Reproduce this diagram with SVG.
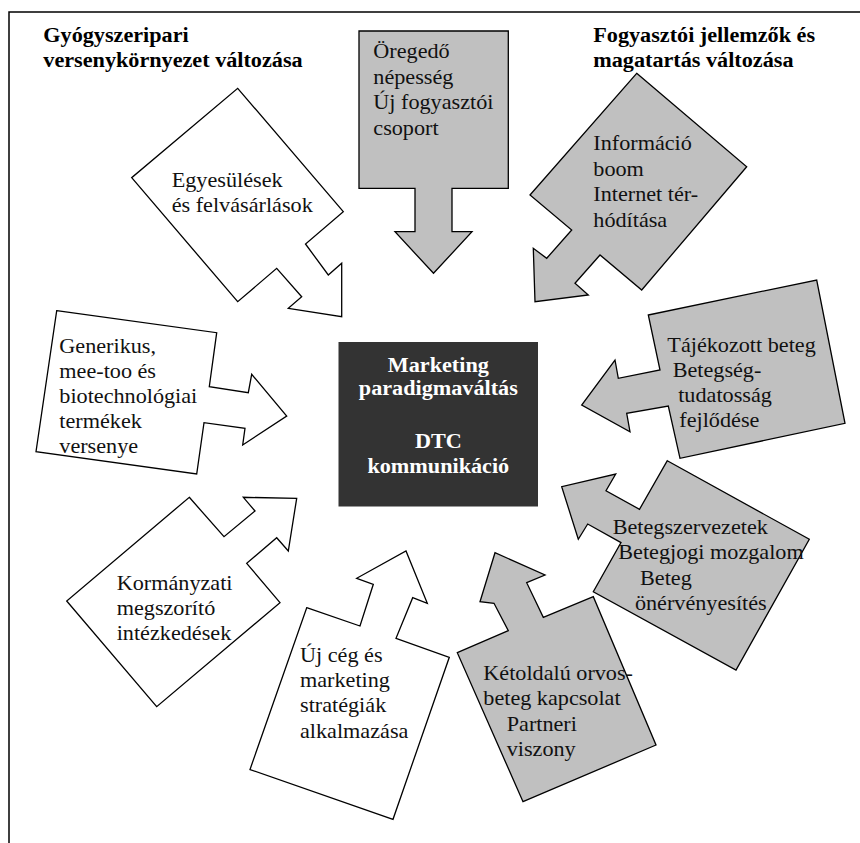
<svg xmlns="http://www.w3.org/2000/svg" width="860" height="843" viewBox="0 0 860 843">
  <style>
    .frame { fill: none; stroke: #000; stroke-width: 1.5; }
    .shape { stroke: #000; stroke-width: 1.3; stroke-linejoin: miter; }
    .white { fill: #fff; }
    .gray { fill: #c0c0c0; }
  </style>
  <rect width="860" height="843" fill="#fff"/>

  <!-- page frame (top and left rules) -->
  <path class="frame" d="M860 12 H9 V843"/>

  <g font-family="'Liberation Serif', 'Times New Roman', serif" font-size="20">
  <!-- group headings -->
  <g id="heading-left">
    <text font-family="'Liberation Serif', serif" font-weight="bold" fill="#000" transform="translate(43.3 0) scale(1.11 1)"><tspan x="0" y="41.7">Gyógyszeripari</tspan><tspan x="0" y="66.7">versenykörnyezet változása</tspan></text>
  </g>
  <g id="heading-right">
    <text font-family="'Liberation Serif', serif" font-weight="bold" fill="#000" transform="translate(593.3 0) scale(1.11 1)"><tspan x="0" y="41.7">Fogyasztói jellemzők és</tspan><tspan x="0" y="66.7">magatartás változása</tspan></text>
  </g>

  <!-- central node -->
  <g id="center">
    <rect x="338.5" y="342" width="199.5" height="164.5" fill="#333"/>
    <text font-family="'Liberation Serif', serif" font-weight="bold" fill="#fff" text-anchor="middle" transform="translate(438.3 0) scale(1.11 1)"><tspan x="0" y="371.7">Marketing</tspan><tspan x="0" y="395.5">paradigmaváltás</tspan><tspan x="0" y="448.3">DTC</tspan><tspan x="0" y="473">kommunikáció</tspan></text>
  </g>

  <g id="connectors"></g>

  <!-- white arrow callouts: competitive environment -->
  <g id="egyesulesek">
    <polygon class="shape white" points="237.7,88.3 343.3,211.7 305.5,244 328.3,275 341.7,263.3 341.7,316.7 288.3,308.3 301.7,296.7 276.7,268.3 237.7,301.7 131.7,177.7"/>
    <text font-family="'Liberation Serif', serif" fill="#111" transform="translate(171.7 0) scale(1.11 1)"><tspan x="0" y="186.7">Egyesülések</tspan><tspan x="0" y="212.3">és felvásárlások</tspan></text>
  </g>

  <g id="generikus">
    <polygon class="shape white" points="56.7,310.7 216.7,332.7 209.3,386.7 248.3,392.7 251.7,374.3 286.7,416 242.7,445 245,428.3 204,422.7 196.7,474 36,451.7"/>
    <text font-family="'Liberation Serif', serif" fill="#111" transform="translate(59.3 0) scale(1.11 1)"><tspan x="0" y="353.3">Generikus,</tspan><tspan x="0" y="378.3">mee-too és</tspan><tspan x="0" y="403.3">biotechnológiai</tspan><tspan x="0" y="428.3">termékek</tspan><tspan x="0" y="453.3">versenye</tspan></text>
  </g>

  <g id="kormanyzati">
    <polygon class="shape white" points="189.3,497.3 224,536.7 255,511 243.3,497.3 296.7,498.3 288.3,551 276.7,537.7 246.7,563.3 280,602.7 156.7,706.7 66.7,601"/>
    <text font-family="'Liberation Serif', serif" fill="#111" transform="translate(116.7 0) scale(1.11 1)"><tspan x="0" y="590">Kormányzati</tspan><tspan x="0" y="615">megszorító</tspan><tspan x="0" y="640">intézkedések</tspan></text>
  </g>

  <g id="uj-ceg">
    <polygon class="shape white" points="306.7,607.7 360,626 373.3,584.3 356.7,578.3 406,551 427.3,603.3 412.7,597.7 396,638.3 449.3,657.3 393,819.3 250,769.5"/>
    <text font-family="'Liberation Serif', serif" fill="#111" transform="translate(300 0) scale(1.11 1)"><tspan x="0" y="661.7">Új cég és</tspan><tspan x="0" y="687">marketing</tspan><tspan x="0" y="712.5">stratégiák</tspan><tspan x="0" y="738">alkalmazása</tspan></text>
  </g>

  <!-- gray arrow callouts: consumer characteristics -->
  <g id="oregedo">
    <polygon class="shape gray" points="359,31 508.3,31 508.3,188.3 452,188.3 452,231.7 472,231.7 433.5,273.3 395,231.7 415,231.7 415,188.3 359,188.3"/>
    <text font-family="'Liberation Serif', serif" fill="#111" transform="translate(373.3 0) scale(1.11 1)"><tspan x="0" y="58.3">Öregedő</tspan><tspan x="0" y="83.8">népesség</tspan><tspan x="0" y="109.3">Új fogyasztói</tspan><tspan x="0" y="134.8">csoport</tspan></text>
  </g>

  <g id="informacio">
    <polygon class="shape gray" points="636.7,73.3 746.7,166.7 641.7,290 600,255 575,283.3 588.3,295 535,301.7 533.3,248.3 546.7,258.3 571.7,230 530,195"/>
    <text font-family="'Liberation Serif', serif" fill="#111" transform="translate(593.3 0) scale(1.11 1)"><tspan x="0" y="150">Információ</tspan><tspan x="0" y="175.7">boom</tspan><tspan x="0" y="201.3">Internet tér-</tspan><tspan x="0" y="226.7">hódítása</tspan></text>
  </g>

  <g id="tajekozott">
    <polygon class="shape gray" points="648.3,315 816.7,280 845,423.3 680,458.3 668.3,406 626.7,413.3 630,431.7 581.7,405 615,360 618.3,378.3 660,370"/>
    <text font-family="'Liberation Serif', serif" fill="#111" transform="scale(1.11 1)"><tspan x="601.2" y="351.7">Tájékozott beteg</tspan><tspan x="606" y="376.7">Betegség-</tspan><tspan x="611" y="401.7">tudatosság</tspan><tspan x="612" y="426.7">fejlődése</tspan></text>
  </g>

  <g id="betegszervezetek">
    <polygon class="shape gray" points="667.3,460.7 809.3,539.3 736,670 593.3,591.7 621,542.6 587.7,524 578.3,539.3 561.7,486.7 615.7,474 606,490.7 639.5,509.3"/>
    <text font-family="'Liberation Serif', serif" fill="#111" transform="scale(1.11 1)"><tspan x="552" y="534.3">Betegszervezetek</tspan><tspan x="557" y="559.5">Betegjogi mozgalom</tspan><tspan x="576.6" y="585">Beteg</tspan><tspan x="572" y="610.5">önérvényesítés</tspan></text>
  </g>

  <g id="ketoldalu">
    <polygon class="shape gray" points="457.3,652.7 508.3,630.7 494,603.3 480,601.7 495,552.7 545,575 526.7,582.7 543.3,617.3 593.3,596.7 656,745 523,801.7"/>
    <text font-family="'Liberation Serif', serif" fill="#111" transform="scale(1.11 1)"><tspan x="435.4" y="680">Kétoldalú orvos-</tspan><tspan x="435.4" y="705.5">beteg kapcsolat</tspan><tspan x="456.5" y="731">Partneri</tspan><tspan x="456.5" y="756.5">viszony</tspan></text>
  </g>
  </g>
</svg>
